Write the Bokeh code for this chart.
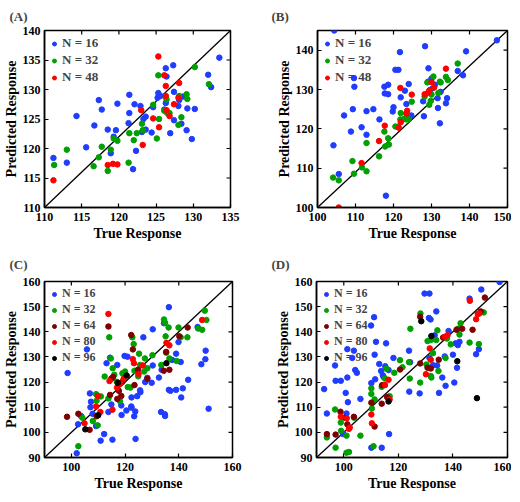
import math
from bokeh.plotting import figure
from bokeh.layouts import column, row
from bokeh.models import FixedTicker, Range1d
from bokeh.embed import file_html
from bokeh.resources import INLINE

FONT = "Liberation Serif"

# ---------------- Panel A ----------------
a16_x = [111.2, 113.0, 114.3, 115.6, 116.7, 117.3, 117.7, 118.5, 118.9, 119.3, 119.6, 119.8, 121.3, 121.4,
         121.4, 121.9, 122.1, 122.3, 122.9, 123.1, 123.3, 123.6, 123.6, 124.4, 124.6, 125.2, 125.3, 125.6,
         126.1, 126.3, 126.3, 126.4, 126.9, 127.3, 127.4, 127.4, 128.0, 128.1, 128.4, 128.6, 129.1, 129.2,
         129.8, 130.2, 132.0, 132.4, 133.5]
a16_y = [118.4, 117.6, 125.5, 120.2, 123.9, 128.2, 126.6, 123.2, 119.2, 122.0, 123.1, 127.6, 124.3, 126.0,
         129.1, 116.5, 127.5, 119.6, 127.2, 122.8, 125.0, 125.4, 123.2, 122.7, 127.0, 128.6, 129.4, 128.9,
         126.6, 133.6, 127.7, 132.2, 122.6, 134.1, 129.6, 124.8, 127.2, 128.2, 124.2, 128.8, 123.1, 126.8,
         121.6, 126.7, 132.5, 130.4, 135.4]
a32_x = [111.3, 113.0, 116.6, 117.3, 117.7, 118.5, 118.9, 119.3, 119.8, 121.3, 121.4, 122.0, 122.4, 123.1,
         123.2, 124.6, 125.1, 125.3, 125.4, 126.1, 126.3, 126.4, 126.5, 126.8, 128.0, 128.1, 128.4, 129.1,
         129.2, 130.2, 132.1]
a32_y = [117.2, 119.8, 117.0, 118.5, 120.3, 116.2, 119.8, 121.7, 121.3, 117.6, 122.6, 121.4, 122.6, 124.2,
         123.1, 127.4, 121.7, 132.4, 125.0, 126.4, 128.8, 128.3, 126.0, 126.0, 124.0, 128.9, 125.3, 129.2,
         128.4, 133.8, 130.9]
a48_x = [111.2, 118.5, 119.2, 119.8, 123.0, 123.2, 124.6, 125.3, 125.4, 126.1, 126.3, 126.3, 126.4, 126.8,
         127.4, 128.0, 128.1]
a48_y = [114.6, 117.2, 117.4, 117.3, 126.5, 120.6, 125.1, 135.6, 123.6, 132.4, 128.9, 130.6, 126.5, 125.5,
         127.5, 128.6, 131.1]

# ---------------- Panel B ----------------
b16_x = [104.4, 104.2, 105.6, 107.0, 108.8, 109.3, 109.6, 109.7, 111.6, 112.9, 112.9, 114.7, 116.3, 117.6,
         117.7, 118.0, 118.6, 118.6, 119.8, 120.0, 120.5, 121.3, 121.7, 121.9, 123.0, 123.4, 124.0, 124.7,
         127.8, 128.0, 128.3, 129.2, 129.1, 129.6, 130.0, 130.3, 130.9, 131.6, 131.7, 132.2, 132.4, 133.8,
         134.1, 136.9, 138.3, 139.1, 147.2]
b16_y = [145.0, 115.8, 108.5, 123.4, 119.3, 125.0, 132.9, 130.7, 120.4, 124.5, 118.5, 125.0, 122.4, 130.7,
         129.0, 103.0, 131.2, 128.8, 124.4, 125.5, 135.0, 135.0, 139.5, 128.0, 129.7, 126.3, 131.4, 123.4,
         127.0, 123.2, 141.0, 135.4, 132.0, 129.9, 132.8, 130.3, 131.2, 127.8, 125.3, 121.4, 129.4, 126.5,
         127.8, 134.7, 133.6, 139.7, 142.5]
b32_x = [104.1, 105.6, 109.2, 109.6, 111.7, 112.9, 112.9, 116.2, 117.6, 117.8, 118.6, 118.8, 120.5, 121.1,
         121.9, 121.8, 122.8, 123.4, 123.5, 124.0, 124.8, 128.2, 128.9, 129.4, 129.8, 130.0, 130.5, 131.8,
         132.2, 132.4, 133.8, 134.3, 136.9]
b32_y = [107.6, 106.9, 111.8, 108.6, 110.2, 109.2, 116.4, 113.0, 119.3, 115.5, 117.6, 116.0, 120.6, 120.5,
         124.0, 122.4, 122.5, 122.4, 123.2, 122.4, 126.9, 128.2, 131.8, 126.1, 127.1, 128.7, 133.3, 129.1,
         132.0, 131.8, 133.2, 132.4, 136.6]
b48_x = [105.6, 111.6, 116.2, 117.7, 121.8, 121.4, 121.9, 123.4, 123.6, 124.8, 128.2, 129.1, 129.4, 130.0,
         130.7, 133.8]
b48_y = [100.0, 111.3, 116.9, 120.8, 130.4, 120.3, 121.7, 123.9, 124.6, 128.7, 128.8, 129.2, 129.7, 131.9,
         130.5, 135.3]

# ---------------- Panel C ----------------
c16_x = [98.6, 102.0, 102.5, 103.6, 105.8, 106.9, 107.3, 107.1, 107.9, 109.2, 110.9, 112.2, 113.1, 113.8,
         114.4, 114.9, 115.3, 117.1, 118.6, 118.7, 119.8, 120.5, 120.9, 122.4, 122.3, 122.4, 123.4, 123.8,
         123.9, 124.5, 125.6, 125.7, 126.8, 127.5, 128.3, 129.9, 130.3, 130.3, 132.6, 133.6, 134.5, 133.4,
         134.8, 134.9, 136.3, 136.3, 136.9, 137.5, 139.0, 139.0, 139.9, 140.7, 140.9, 141.5, 143.5, 147.0,
         148.4, 149.9, 150.0, 151.1]
c16_y = [123.6, 91.7, 103.2, 106.5, 133.0, 115.5, 112.2, 110.0, 107.4, 102.5, 96.7, 99.3, 127.5, 108.1,
         129.7, 111.1, 97.1, 126.8, 110.7, 106.9, 130.4, 108.7, 130.1, 113.9, 110.3, 109.8, 106.4, 108.3,
         97.4, 114.4, 116.7, 116.0, 137.8, 120.0, 121.7, 119.7, 126.6, 141.0, 121.8, 124.9, 143.4, 108.1,
         107.2, 106.5, 149.8, 116.9, 116.5, 128.8, 116.9, 131.3, 135.9, 128.0, 113.9, 117.5, 120.9, 141.9,
         127.1, 129.1, 132.5, 109.4]
c32_x = [102.6, 104.1, 108.0, 109.2, 109.4, 109.8, 111.0, 112.4, 113.8, 114.1, 114.7, 115.4, 116.0, 116.9,
         118.1, 119.0, 120.0, 121.0, 122.0, 122.7, 123.2, 123.5, 124.9, 125.2, 125.6, 127.1, 127.4, 128.3,
         130.2, 133.5, 134.5, 134.9, 135.1, 135.3, 136.2, 136.5, 139.2, 139.9, 140.7, 143.2, 147.2, 148.7,
         149.7, 150.3]
c32_y = [94.5, 105.8, 104.5, 115.2, 112.6, 102.8, 114.3, 122.2, 113.5, 137.8, 129.4, 125.5, 122.9, 120.1,
         112.4, 123.5, 124.2, 118.0, 117.8, 137.8, 135.1, 124.5, 122.3, 131.3, 126.8, 124.2, 129.4, 125.5,
         130.7, 126.8, 144.9, 143.6, 138.2, 131.7, 141.7, 129.4, 128.4, 141.7, 137.8, 137.8, 141.3, 140.8,
         148.4, 144.7]
c64_x = [98.4, 102.6, 106.8, 109.4, 113.8, 114.4, 114.9, 115.5, 117.1, 117.7, 118.6, 119.0, 122.3, 122.9,
         123.5, 124.8, 128.3, 134.4, 135.3, 136.5, 140.2, 143.3]
c64_y = [106.2, 107.4, 101.0, 106.4, 142.1, 114.9, 121.4, 122.0, 113.3, 116.5, 114.5, 120.1, 138.7, 133.0,
         118.8, 124.9, 121.3, 124.5, 132.0, 124.9, 138.2, 141.7]
c80_x = [104.9, 109.2, 109.8, 110.8, 113.8, 114.2, 115.3, 117.0, 118.2, 119.5, 122.9, 123.3, 125.0, 126.6,
         135.4, 136.5, 148.7]
c80_y = [103.6, 110.3, 114.5, 108.1, 147.1, 120.4, 109.0, 117.8, 119.3, 121.4, 129.1, 127.5, 123.2, 126.6,
         135.6, 134.6, 144.7]
c96_x = [105.2, 110.0, 117.3, 120.6, 135.4]
c96_y = [101.2, 106.8, 119.7, 122.6, 127.5]

# ---------------- Panel D ----------------
d16_x = [92.8, 93.8, 96.8, 97.0, 98.9, 99.8, 100.7, 101.0, 101.3, 101.3, 101.5, 103.1, 103.7, 104.2, 104.8,
         106.1, 110.0, 110.1, 110.1, 111.1, 111.3, 111.5, 111.8, 113.0, 113.7, 113.9, 114.3, 114.6, 115.2,
         115.5, 116.4, 116.6, 118.2, 123.9, 124.0, 124.3, 127.8, 129.6, 131.4, 131.2, 131.8, 131.4, 132.7,
         133.3, 133.9, 134.2, 134.9, 136.1, 137.0, 137.3, 138.4, 140.0, 140.5, 141.0, 141.5, 141.8, 142.4,
         146.1, 148.5, 149.5, 150.4, 157.1]
d16_y = [117.2, 107.5, 126.6, 120.5, 120.5, 99.3, 115.7, 107.5, 133.1, 121.8, 112.0, 129.6, 132.5, 124.8,
         123.7, 113.3, 142.5, 119.6, 93.9, 145.8, 130.9, 121.1, 136.0, 127.2, 124.4, 93.9, 122.7, 122.0, 126.3,
         135.4, 124.8, 99.3, 129.6, 132.5, 116.2, 127.9, 115.5, 155.2, 155.2, 145.5, 144.9, 129.6, 126.7,
         138.6, 148.1, 126.6, 115.7, 121.8, 130.2, 118.5, 140.3, 130.9, 119.8, 135.4, 125.7, 134.7, 136.0,
         153.2, 131.1, 133.1, 156.8, 159.8]
d32_x = [93.8, 96.8, 97.0, 98.9, 99.0, 101.0, 101.0, 101.9, 103.8, 106.1, 110.1, 110.1, 110.3, 110.9, 111.3,
         113.9, 115.1, 115.6, 116.8, 118.5, 120.6, 121.5, 123.9, 124.4, 124.2, 128.0, 128.1, 130.3, 130.7,
         131.9, 131.9, 132.1, 132.7, 133.9, 134.3, 134.7, 137.3, 137.8, 139.2, 141.8, 142.4, 142.8, 146.1,
         149.5, 151.3]
d32_y = [98.0, 109.1, 93.9, 103.9, 100.6, 98.7, 91.9, 92.2, 105.8, 98.7, 117.5, 115.3, 109.5, 94.5, 113.1,
         118.1, 121.4, 125.3, 114.4, 123.7, 128.7, 125.9, 127.9, 141.2, 121.4, 119.8, 147.3, 127.0, 136.3,
         136.7, 122.4, 121.8, 131.5, 136.7, 140.6, 124.4, 129.6, 137.3, 135.0, 141.2, 138.9, 143.4, 135.7,
         135.1, 147.7]
d64_x = [93.8, 97.0, 98.8, 100.4, 101.3, 103.7, 110.1, 111.3, 113.9, 114.1, 115.9, 120.6, 128.0, 128.0,
         130.7, 131.9, 134.8, 136.4, 141.3, 143.4, 147.2, 150.2, 151.7]
d64_y = [99.3, 99.1, 108.2, 105.8, 103.2, 106.2, 111.8, 102.3, 111.4, 118.8, 114.0, 125.0, 146.0, 127.4,
         125.7, 125.4, 128.9, 137.7, 140.8, 141.2, 140.8, 148.1, 153.6]
d80_x = [98.9, 101.1, 101.9, 102.2, 110.1, 110.3, 115.1, 116.4, 116.8, 130.1, 131.5, 131.9, 137.0, 138.0,
         146.2, 148.5, 149.1, 149.7]
d80_y = [106.2, 105.6, 101.4, 101.9, 107.1, 103.6, 118.8, 120.9, 113.1, 123.1, 133.4, 128.9, 138.0, 138.6,
         152.3, 145.0, 147.1, 147.3]
d96_x = [116.4, 128.4, 132.1, 141.6, 148.8]
d96_y = [112.3, 144.2, 138.3, 128.3, 113.6]

# axis limits and ticks
a_xlim, a_ylim = [110, 135], [110, 140]
b_xlim, b_ylim = [100, 150], [100, 145]
c_xlim, c_ylim = [90, 160], [90, 160]
d_xlim, d_ylim = [90, 160], [90, 160]
a_xticks, a_yticks = [110, 115, 120, 125, 130, 135], [110, 115, 120, 125, 130, 135, 140]
b_xticks, b_yticks = [100, 110, 120, 130, 140, 150], [100, 110, 120, 130, 140]
c_xticks, c_yticks = [100, 120, 140, 160], [90, 100, 110, 120, 130, 140, 150, 160]
d_xticks, d_yticks = [100, 120, 140, 160], [90, 100, 110, 120, 130, 140, 150, 160]

labels3 = ["N = 16", "N = 32", "N = 48"]
labels5 = ["N = 16", "N = 32", "N = 64", "N = 80", "N = 96"]
colors3 = ["#1f3cff", "#00a000", "#ff0000"]
colors5 = ["#1f3cff", "#00a000", "#800000", "#ff0000", "#000000"]


def panel(tag, xlim, ylim, xticks, yticks, series, labels, colors,
          fw, fh, bl, br, bt, bb, leg_size, leg_h):
    p = figure(frame_width=fw, frame_height=fh, output_backend="svg", toolbar_location=None,
               x_range=Range1d(*xlim), y_range=Range1d(*ylim), title=tag,
               min_border_left=bl, min_border_right=br, min_border_top=bt, min_border_bottom=bb)
    p.xgrid.visible = False
    p.ygrid.visible = False
    p.outline_line_color = "black"
    p.outline_line_width = 1.5
    p.outline_line_alpha = 1
    p.background_fill_color = "white"
    p.border_fill_color = "white"

    p.title.align = "left"
    p.title.offset = -bl + 2
    p.title.text_font = FONT
    p.title.text_font_style = "bold"
    p.title.text_font_size = "13px"
    p.title.standoff = bt - 15

    # diagonal reference line across the box
    p.line(xlim, ylim, line_color="black", line_width=1.3)

    # mirrored tick marks on top and right edges (half of each dash is clipped by the frame)
    p.scatter(xticks, [ylim[1]] * len(xticks), marker="dash", angle=math.pi / 2, size=8,
              line_color="black", line_width=1.2)
    p.scatter([xlim[1]] * len(yticks), yticks, marker="dash", size=8,
              line_color="black", line_width=1.2)

    for (xs, ys), lab, col in zip(series, labels, colors):
        p.scatter(xs, ys, size=5.5, color=col, line_color=col, legend_label=lab)

    for ax, ticks in ((p.xaxis[0], xticks), (p.yaxis[0], yticks)):
        ax.ticker = FixedTicker(ticks=ticks)
        ax.major_tick_in = 4
        ax.major_tick_out = 0
        ax.minor_tick_in = 0
        ax.minor_tick_out = 0
        ax.axis_line_color = "black"
        ax.axis_line_width = 1.5
        ax.major_tick_line_width = 1.2
        ax.major_label_text_font = FONT
        ax.major_label_text_font_style = "bold"
        ax.major_label_text_font_size = "12px"
        ax.major_label_text_color = "black"
        ax.axis_label_text_font = FONT
        ax.axis_label_text_font_style = "bold"
        ax.axis_label_text_font_size = "14px"
        ax.axis_label_text_color = "black"
    p.xaxis[0].major_label_standoff = 5
    p.xaxis[0].axis_label_standoff = 2
    p.yaxis[0].major_label_standoff = 4
    p.yaxis[0].axis_label_standoff = 1
    p.xaxis[0].axis_label = "True Response"
    p.yaxis[0].axis_label = "Predicted Response"

    lg = p.legend[0]
    lg.location = "top_left"
    lg.background_fill_alpha = 0
    lg.border_line_alpha = 0
    lg.label_text_font = FONT
    lg.label_text_font_style = "bold"
    lg.label_text_font_size = leg_size
    lg.label_height = leg_h
    lg.glyph_height = leg_h
    lg.glyph_width = 10
    lg.label_standoff = 3
    lg.spacing = 1
    lg.margin = 2
    lg.padding = 3
    return p


pa = panel("(A)", a_xlim, a_ylim, a_xticks, a_yticks,
           [(a16_x, a16_y), (a32_x, a32_y), (a48_x, a48_y)], labels3, colors3,
           186, 177, 37, 39, 28, 37, "13px", 13)
pb = panel("(B)", b_xlim, b_ylim, b_xticks, b_yticks,
           [(b16_x, b16_y), (b32_x, b32_y), (b48_x, b48_y)], labels3, colors3,
           190, 177, 48, 4, 28, 37, "13px", 13)
pc = panel("(C)", c_xlim, c_ylim, c_xticks, c_yticks,
           [(c16_x, c16_y), (c32_x, c32_y), (c64_x, c64_y), (c80_x, c80_y), (c96_x, c96_y)],
           labels5, colors5, 188, 176, 37, 37, 35, 33, "12px", 12)
pd = panel("(D)", d_xlim, d_ylim, d_xticks, d_yticks,
           [(d16_x, d16_y), (d32_x, d32_y), (d64_x, d64_y), (d80_x, d80_y), (d96_x, d96_y)],
           labels5, colors5, 191, 176, 47, 4, 35, 33, "12px", 12)

layout = column(row(pa, pb), row(pc, pd))
open("out.html", "w").write(file_html(layout, INLINE))
